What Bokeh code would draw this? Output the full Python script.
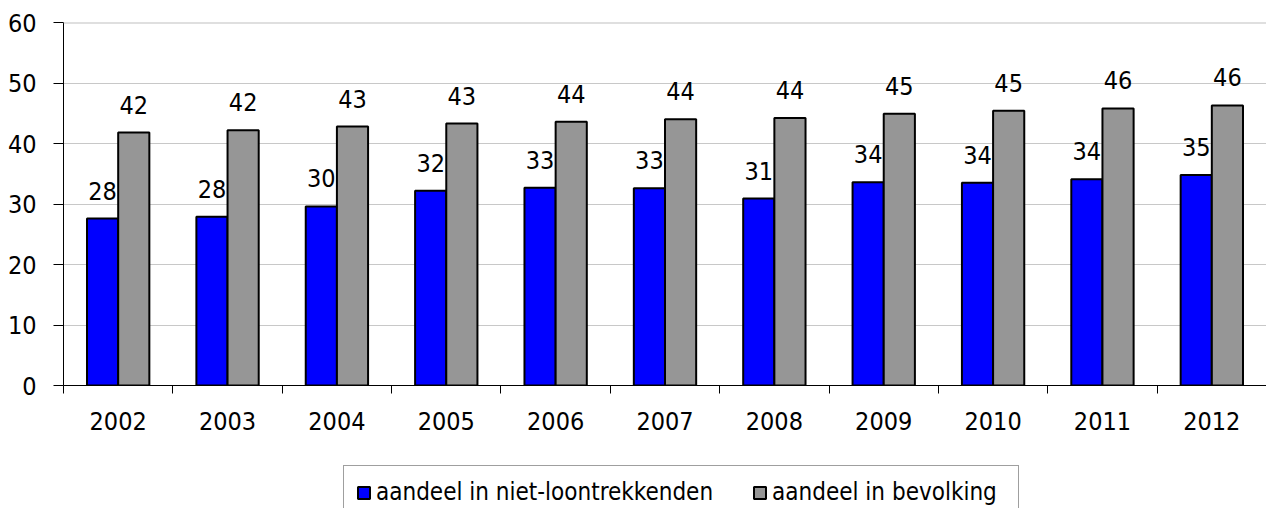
from bokeh.plotting import figure
from bokeh.layouts import column
from bokeh.models import (ColumnDataSource, Range1d, LinearAxis, FixedTicker, Legend, LegendItem,
                          Span, CustomJSTickFormatter)
from bokeh.transform import dodge
from bokeh.core.properties import value
from bokeh.embed import file_html
from bokeh.resources import INLINE

# ---------------- data ----------------
years = ["2002", "2003", "2004", "2005", "2006", "2007", "2008", "2009", "2010", "2011", "2012"]
niet_loontrekkenden = [27.6, 27.9, 29.6, 32.2, 32.7, 32.6, 30.9, 33.6, 33.5, 34.1, 34.8]
bevolking = [41.8, 42.2, 42.8, 43.3, 43.6, 44.0, 44.2, 44.9, 45.4, 45.8, 46.3]
series_names = ["aandeel in niet-loontrekkenden", "aandeel in bevolking"]
y_ticks = [0, 10, 20, 30, 40, 50, 60]

# ---------------- style ----------------
FONT = "DejaVu Sans Condensed, DejaVu Sans"
BLUE = "#0000ff"
GREY = "#969696"
BAR_W = 0.285
W = 1266

n = len(years)
src = ColumnDataSource(dict(
    year=years,
    slot=[i + 0.5 for i in range(n)],          # centre of each year's category slot
    niet=niet_loontrekkenden,
    bev=bevolking,
    niet_lbl=[str(int(v + 0.5)) for v in niet_loontrekkenden],
    bev_lbl=[str(int(v + 0.5)) for v in bevolking],
))

p = figure(x_range=Range1d(0, n), y_range=Range1d(y_ticks[0], y_ticks[-1]),
           width=W, height=440, output_backend="svg", toolbar_location=None,
           x_axis_location=None,
           min_border_left=63, min_border_right=0, min_border_top=22, min_border_bottom=55)
p.outline_line_color = None
p.background_fill_color = "white"
p.border_fill_color = "white"

# separator ticks between categories (axis line + ticks, no labels)
sep_axis = LinearAxis(ticker=FixedTicker(ticks=list(range(n + 1))),
                      formatter=CustomJSTickFormatter(code="return ''"),
                      major_label_text_font_size="0px", major_label_standoff=0,
                      major_tick_out=8, major_tick_in=0, minor_tick_line_color=None,
                      axis_line_color="black", major_tick_line_color="black")
p.add_layout(sep_axis, "below")

# category labels at slot centres
cat_axis = LinearAxis(ticker=FixedTicker(ticks=[i + 0.5 for i in range(n)]),
                      formatter=CustomJSTickFormatter(args=dict(years=years),
                                                      code="return years[Math.round(tick - 0.5)] || ''"),
                      axis_line_color=None, major_tick_line_color=None, minor_tick_line_color=None,
                      major_tick_out=0, major_tick_in=0, major_label_standoff=18,
                      major_label_text_font=FONT, major_label_text_font_size="25px",
                      major_label_text_color="black")
p.add_layout(cat_axis, "below")

p.yaxis.ticker = FixedTicker(ticks=y_ticks)
p.yaxis.major_tick_out = 10
p.yaxis.major_tick_in = 0
p.yaxis.minor_tick_line_color = None
p.yaxis.axis_line_color = "black"
p.yaxis.major_tick_line_color = "black"
p.yaxis.major_label_standoff = 17
p.yaxis.major_label_text_font = FONT
p.yaxis.major_label_text_font_size = "25px"
p.yaxis.major_label_text_color = "black"

p.xgrid.grid_line_color = None
p.ygrid.grid_line_color = "#c8c8c8"
p.ygrid.grid_line_width = 1
p.add_layout(Span(location=y_ticks[-1], dimension="width", line_color="#c0c0c0", line_width=2))

r1 = p.vbar(x=dodge("slot", -BAR_W / 2), top="niet", width=BAR_W, source=src,
            fill_color=BLUE, line_color="black", line_width=2)
r2 = p.vbar(x=dodge("slot", BAR_W / 2), top="bev", width=BAR_W, source=src,
            fill_color=GREY, line_color="black", line_width=2)

p.text(x=dodge("slot", -BAR_W / 2), y="niet", text="niet_lbl", source=src,
       text_align="center", text_baseline="alphabetic", y_offset=-28,
       text_font=value(FONT), text_font_size="25px", text_color="black")
p.text(x=dodge("slot", BAR_W / 2), y="bev", text="bev_lbl", source=src,
       text_align="center", text_baseline="alphabetic", y_offset=-28,
       text_font=value(FONT), text_font_size="25px", text_color="black")

# ---------------- legend strip below the chart ----------------
lg = figure(x_range=Range1d(0, 1), y_range=Range1d(0, 1), width=W, height=68,
            output_backend="svg", toolbar_location=None,
            x_axis_location=None, y_axis_location=None,
            min_border_left=63, min_border_right=0, min_border_top=0, min_border_bottom=0)
lg.xgrid.grid_line_color = None
lg.ygrid.grid_line_color = None
lg.outline_line_color = None
lg.background_fill_color = "white"
lg.border_fill_color = "white"

# legend keys (same styling as the bars; not drawn themselves)
k1 = lg.vbar(x="slot", top="niet", width=BAR_W, source=src, visible=False,
             fill_color=BLUE, line_color="black", line_width=2)
k2 = lg.vbar(x="slot", top="bev", width=BAR_W, source=src, visible=False,
             fill_color=GREY, line_color="black", line_width=2)

legend = Legend(items=[LegendItem(label=series_names[0], renderers=[k1]),
                       LegendItem(label=series_names[1], renderers=[k2])],
                orientation="horizontal", location=(280, -11),
                glyph_width=15, glyph_height=15, label_standoff=5, spacing=39,
                label_width=234,
                padding=12, margin=0, border_line_color="#404040", border_line_width=1,
                background_fill_color="white", background_fill_alpha=1,
                label_text_font=FONT, label_text_font_size="24px", label_text_color="black")
lg.add_layout(legend, "center")

page = column(p, lg, spacing=0)
open("out.html", "w").write(file_html(page, INLINE))
